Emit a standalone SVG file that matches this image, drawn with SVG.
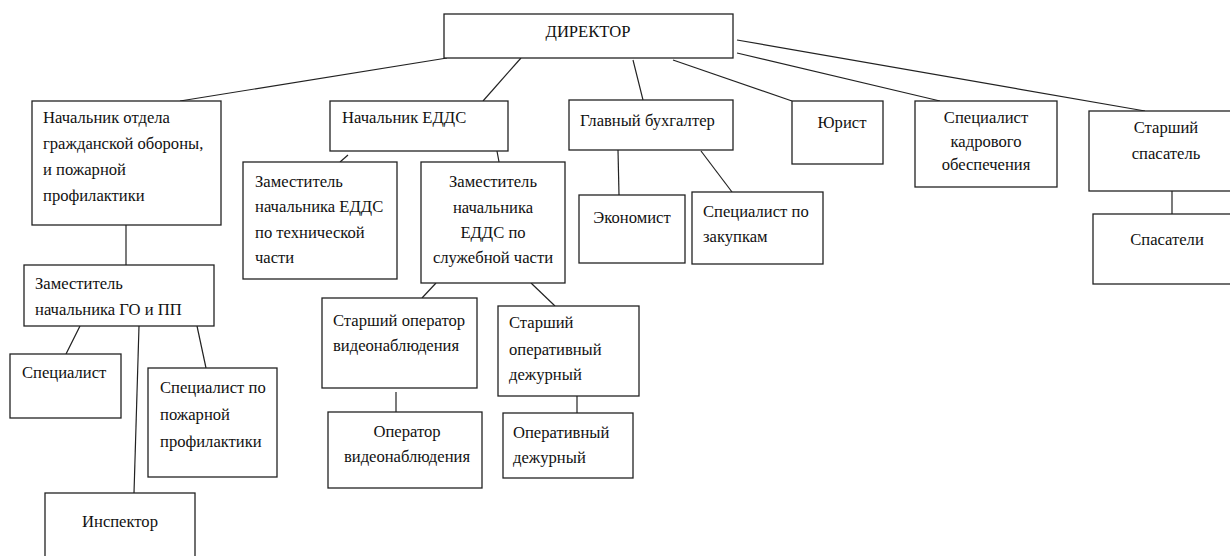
<svg xmlns="http://www.w3.org/2000/svg" width="1230" height="556" viewBox="0 0 1230 556">
<style>
rect{fill:#fff;stroke:#222;stroke-width:1.3}
text{font-family:"Liberation Serif","Times New Roman","Noto Serif","DejaVu Serif",serif;font-size:16.6px;fill:#111}
.c{text-anchor:middle}
#connectors line{stroke:#222;stroke-width:1.2}
</style>
<rect x="0" y="0" width="1230" height="556" style="fill:#fff;stroke:none"/>
<g id="connectors">
<line x1="447" y1="58" x2="180" y2="101"/>
<line x1="521" y1="58" x2="483" y2="101"/>
<line x1="633" y1="60" x2="643" y2="100"/>
<line x1="673" y1="60" x2="792" y2="101"/>
<line x1="737" y1="53" x2="940" y2="101"/>
<line x1="737" y1="40" x2="1145" y2="111"/>
<line x1="126" y1="225" x2="126" y2="265"/>
<line x1="348" y1="155" x2="340" y2="162"/>
<line x1="497" y1="151" x2="499" y2="162"/>
<line x1="618" y1="150" x2="619" y2="195"/>
<line x1="701" y1="151" x2="732" y2="192"/>
<line x1="1172" y1="191" x2="1172" y2="214"/>
<line x1="80" y1="326" x2="66" y2="354"/>
<line x1="197" y1="326" x2="206" y2="368"/>
<line x1="139" y1="326" x2="134" y2="493"/>
<line x1="436" y1="283" x2="422" y2="298"/>
<line x1="531" y1="283" x2="555" y2="306"/>
<line x1="396" y1="392" x2="396" y2="412"/>
<line x1="577" y1="396" x2="577" y2="413"/>
</g>
<g id="director"><rect x="444" y="14" width="289" height="44"/><text class="c" x="588" y="37">ДИРЕКТОР</text></g>
<g id="go-chief"><rect x="32" y="101" width="189" height="124"/>
<text x="43" y="123">Начальник отдела</text><text x="43" y="149">гражданской обороны,</text><text x="43" y="175">и пожарной</text><text x="43" y="201">профилактики</text></g>
<g id="edds-chief"><rect x="330" y="101" width="178" height="50"/><text x="342" y="123">Начальник ЕДДС</text></g>
<g id="edds-tech"><rect x="243" y="162" width="154" height="117"/>
<text x="255" y="187">Заместитель</text><text x="255" y="212">начальника ЕДДС</text><text x="255" y="238">по технической</text><text x="255" y="263">части</text></g>
<g id="edds-service"><rect x="421" y="162" width="144" height="121"/>
<text class="c" x="493" y="187">Заместитель</text><text class="c" x="493" y="213">начальника</text><text class="c" x="493" y="238">ЕДДС по</text><text class="c" x="493" y="263">служебной части</text></g>
<g id="accountant"><rect x="569" y="100" width="164" height="50"/><text x="580" y="126">Главный бухгалтер</text></g>
<g id="lawyer"><rect x="792" y="101" width="91" height="63"/><text class="c" x="842" y="128">Юрист</text></g>
<g id="hr"><rect x="915" y="101" width="142" height="86"/>
<text class="c" x="986" y="123">Специалист</text><text class="c" x="986" y="147">кадрового</text><text class="c" x="986" y="170">обеспечения</text></g>
<g id="senior-rescuer"><rect x="1089" y="111" width="145" height="80"/>
<text class="c" x="1166" y="133">Старший</text><text class="c" x="1166" y="159">спасатель</text></g>
<g id="rescuers"><rect x="1093" y="214" width="141" height="70"/><text class="c" x="1167" y="245">Спасатели</text></g>
<g id="economist"><rect x="579" y="195" width="106" height="68"/><text class="c" x="632" y="223">Экономист</text></g>
<g id="procurement"><rect x="692" y="192" width="131" height="72"/>
<text x="703" y="217">Специалист по</text><text x="703" y="242">закупкам</text></g>
<g id="go-deputy"><rect x="24" y="265" width="190" height="61"/>
<text x="35" y="289">Заместитель</text><text x="35" y="315">начальника ГО и ПП</text></g>
<g id="specialist"><rect x="10" y="354" width="111" height="64"/><text x="22" y="378">Специалист</text></g>
<g id="fire-specialist"><rect x="148" y="368" width="129" height="109"/>
<text x="160" y="393">Специалист по</text><text x="160" y="420">пожарной</text><text x="160" y="447">профилактики</text></g>
<g id="inspector"><rect x="45" y="493" width="150" height="70"/><text class="c" x="120" y="527">Инспектор</text></g>
<g id="senior-video"><rect x="322" y="298" width="155" height="90"/>
<text x="333" y="326">Старший оператор</text><text x="333" y="351">видеонаблюдения</text></g>
<g id="senior-duty"><rect x="498" y="306" width="141" height="90"/>
<text x="509" y="328">Старший</text><text x="509" y="355">оперативный</text><text x="509" y="380">дежурный</text></g>
<g id="video-operator"><rect x="328" y="412" width="154" height="76"/>
<text class="c" x="407" y="437">Оператор</text><text class="c" x="407" y="462">видеонаблюдения</text></g>
<g id="duty"><rect x="503" y="413" width="130" height="65"/>
<text x="513" y="438">Оперативный</text><text x="513" y="463">дежурный</text></g>
</svg>
